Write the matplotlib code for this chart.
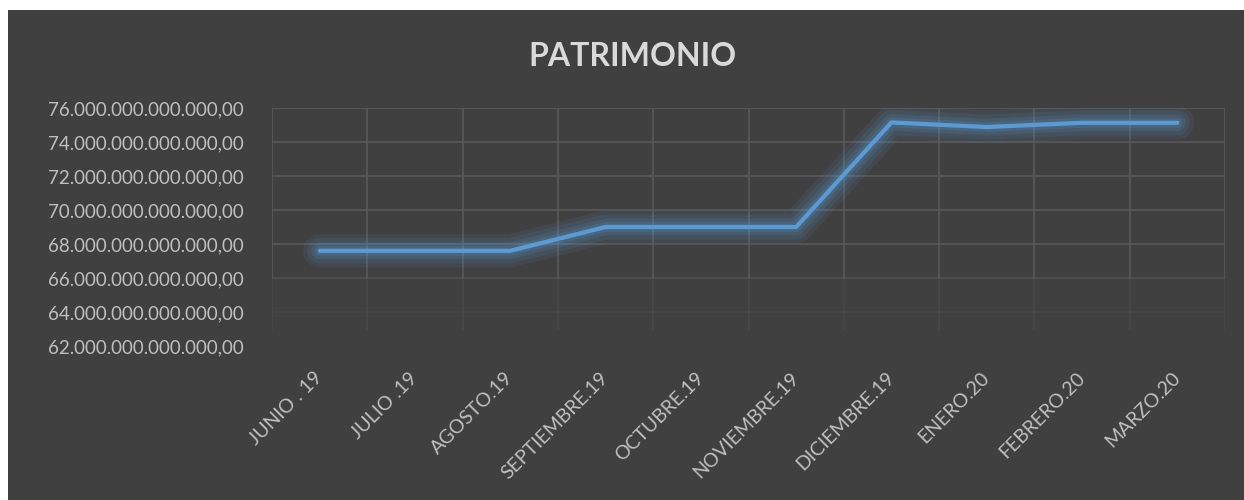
import numpy as np
import matplotlib.pyplot as plt
from matplotlib.patches import Rectangle

meses = ["JUNIO . 19", "JULIO .19", "AGOSTO.19", "SEPTIEMBRE.19", "OCTUBRE.19",
         "NOVIEMBRE.19", "DICIEMBRE.19", "ENERO.20", "FEBRERO.20", "MARZO.20"]
patrimonio = [67.6e12, 67.6e12, 67.6e12, 69.0e12, 69.0e12,
              69.0e12, 75.15e12, 74.88e12, 75.13e12, 75.13e12]
y_ticks = [62e12, 64e12, 66e12, 68e12, 70e12, 72e12, 74e12, 76e12]

bg = "#404040"
txt = "#bfbfbf"
azul = "#5b9bd5"

plt.rcParams['font.family'] = ['Lato', 'DejaVu Sans']

fig = plt.figure(figsize=(12.44, 5.0), dpi=100)
fig.patch.set_facecolor("white")
fig.patches.append(Rectangle((8 / 1244, 0), 1 - 8 / 1244, 1 - 10 / 500,
                             transform=fig.transFigure, facecolor=bg,
                             edgecolor="none", zorder=-10))

ax = fig.add_axes([272 / 1244, 1 - 346 / 500, (1225 - 272) / 1244, (346 - 108) / 500])
ax.set_zorder(5)
ax.patch.set_alpha(0)

x = np.arange(len(meses))
ax.set_xlim(-0.5, len(meses) - 0.5)
ax.set_ylim(62e12, 76e12)

# grid, fading towards the bottom like the original
for v in y_ticks:
    a = 1.0 if v >= 68e12 else (0.6 if v == 66e12 else (0.25 if v == 64e12 else 0.0))
    ax.axhline(v, color="#595959", lw=1.2, alpha=a, zorder=1)
for b in np.arange(-0.5, len(meses), 1.0):
    ax.plot([b, b], [66e12, 76e12], color="#595959", lw=1.2, zorder=1)
    ax.plot([b, b], [63e12, 66e12], color="#595959", lw=1.2, alpha=0.3, zorder=1)

# glow
for w, al in [(24, 0.09), (18, 0.11), (12, 0.14), (7, 0.18)]:
    ax.plot(x, patrimonio, color=azul, lw=w, alpha=al, solid_capstyle="round",
            solid_joinstyle="round", zorder=2)
ax.plot(x, patrimonio, color=azul, lw=3.0, solid_capstyle="round",
        solid_joinstyle="round", zorder=3)

for s in ax.spines.values():
    s.set_visible(False)

ax.set_yticks(y_ticks)
ax.set_yticklabels([f"{v:,.2f}".replace(",", "X").replace(".", ",").replace("X", ".")
                    for v in y_ticks], color=txt, fontsize=13.5)
ax.tick_params(axis="y", length=0, pad=20)

ax.set_xticks(x)
ax.set_xticklabels(meses, rotation=45, ha="right", va="center", rotation_mode="anchor",
                   color=txt, fontsize=14)
ax.tick_params(axis="x", length=0, pad=21)

fig.text(632 / 1244, 1 - 56 / 500, "PATRIMONIO", ha="center", va="center",
         color="#d9d9d9", fontsize=23, fontweight="bold")

fig.savefig("out.png", dpi=100, facecolor=fig.get_facecolor())
